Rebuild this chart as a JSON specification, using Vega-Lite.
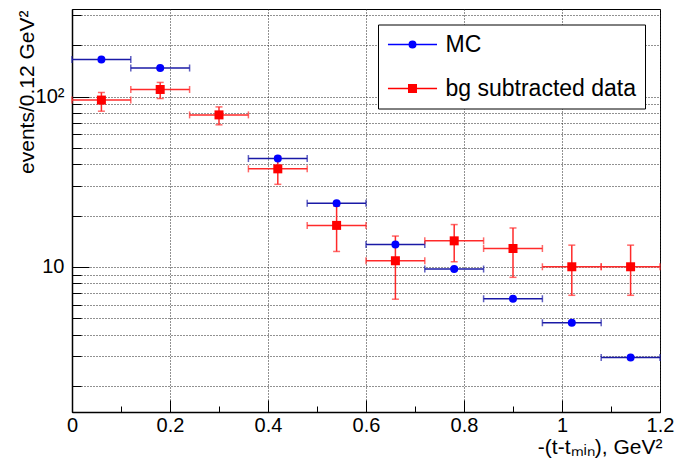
{
  "$schema": "https://vega.github.io/schema/vega-lite/v6.json",
  "width": 588,
  "height": 403,
  "autosize": {"type": "none"},
  "padding": {"left": 72, "top": 9, "right": 19, "bottom": 54},
  "background": "white",
  "config": {
    "view": {"stroke": "black", "strokeWidth": 1},
    "font": "Liberation Sans",
    "axis": {
      "labelFont": "Liberation Sans",
      "titleFont": "Liberation Sans",
      "labelColor": "black",
      "titleColor": "black",
      "domainColor": "black",
      "domainWidth": 1.5,
      "tickColor": "black",
      "tickWidth": 1,
      "gridColor": "#222222",
      "gridDash": [1, 2],
      "gridWidth": 1,
      "labelFontSize": 20,
      "titleFontSize": 21,
      "titleFontWeight": "normal",
      "labelFlush": false,
      "labelOverlap": false,
      "labelBound": false
    }
  },
  "data": {
    "values": [
      {"series": "MC", "x": 0.06, "xlo": 0.0, "xhi": 0.12, "y": 165},
      {"series": "MC", "x": 0.18, "xlo": 0.12, "xhi": 0.24, "y": 147},
      {"series": "MC", "x": 0.42, "xlo": 0.36, "xhi": 0.48, "y": 43.2},
      {"series": "MC", "x": 0.54, "xlo": 0.48, "xhi": 0.60, "y": 23.6},
      {"series": "MC", "x": 0.66, "xlo": 0.60, "xhi": 0.72, "y": 13.5},
      {"series": "MC", "x": 0.78, "xlo": 0.72, "xhi": 0.84, "y": 9.7},
      {"series": "MC", "x": 0.90, "xlo": 0.84, "xhi": 0.96, "y": 6.49},
      {"series": "MC", "x": 1.02, "xlo": 0.96, "xhi": 1.08, "y": 4.69},
      {"series": "MC", "x": 1.14, "xlo": 1.08, "xhi": 1.20, "y": 2.93},
      {"series": "bg subtracted data", "x": 0.06, "xlo": 0.0, "xhi": 0.12, "y": 95.3, "ylo": 82.0, "yhi": 105.6},
      {"series": "bg subtracted data", "x": 0.18, "xlo": 0.12, "xhi": 0.24, "y": 110, "ylo": 97.3, "yhi": 121},
      {"series": "bg subtracted data", "x": 0.30, "xlo": 0.24, "xhi": 0.36, "y": 78, "ylo": 68.2, "yhi": 86.9},
      {"series": "bg subtracted data", "x": 0.42, "xlo": 0.36, "xhi": 0.48, "y": 37.6, "ylo": 30.5, "yhi": 44.5},
      {"series": "bg subtracted data", "x": 0.54, "xlo": 0.48, "xhi": 0.60, "y": 17.5, "ylo": 12.3, "yhi": 22.7},
      {"series": "bg subtracted data", "x": 0.66, "xlo": 0.60, "xhi": 0.72, "y": 10.85, "ylo": 6.45, "yhi": 15.15},
      {"series": "bg subtracted data", "x": 0.78, "xlo": 0.72, "xhi": 0.84, "y": 14.2, "ylo": 10.7, "yhi": 17.7},
      {"series": "bg subtracted data", "x": 0.90, "xlo": 0.84, "xhi": 0.96, "y": 12.8, "ylo": 8.67, "yhi": 16.9},
      {"series": "bg subtracted data", "x": 1.02, "xlo": 0.96, "xhi": 1.08, "y": 10.0, "ylo": 6.8, "yhi": 13.4},
      {"series": "bg subtracted data", "x": 1.14, "xlo": 1.08, "xhi": 1.20, "y": 10.0, "ylo": 6.8, "yhi": 13.4}
    ]
  },
  "layer": [
    {
      "transform": [{"filter": "datum.series == 'MC'"}],
      "mark": {"type": "errorbar", "color": "#1a1aa6", "ticks": {"size": 7, "thickness": 1.5}, "rule": {"strokeWidth": 1.5}},
      "encoding": {
        "x": {
          "field": "xlo", "type": "quantitative", "title": "-(t-tₘᵢₙ), GeV²",
          "scale": {"domain": [0, 1.2], "nice": false, "zero": false},
          "axis": {
            "values": [0, 0.05, 0.1, 0.15, 0.2, 0.25, 0.3, 0.35, 0.4, 0.45, 0.5, 0.55, 0.6, 0.65, 0.7, 0.75, 0.8, 0.85, 0.9, 0.95, 1.0, 1.05, 1.1, 1.15, 1.2],
            "labelExpr": "abs(datum.value*5 - round(datum.value*5)) < 0.001 ? format(datum.value, '~g') : ''",
            "tickSize": {"condition": {"test": "abs(datum.value*5 - round(datum.value*5)) < 0.001", "value": -12}, "value": -6},
            "gridOpacity": {"condition": {"test": "abs(datum.value*5 - round(datum.value*5)) < 0.001", "value": 1}, "value": 0},
            "grid": true,
            "labelPadding": 15,
            "titleAlign": "right",
            "titleBaseline": "alphabetic",
            "titleX": 590,
            "titleY": 41
          }
        },
        "x2": {"field": "xhi"},
        "y": {
          "field": "y", "type": "quantitative", "title": "events/0.12 GeV²",
          "scale": {"type": "log", "domain": [1.403, 326.6], "nice": false},
          "axis": {
            "values": [2, 3, 4, 5, 6, 7, 8, 9, 10, 20, 30, 40, 50, 60, 70, 80, 90, 100, 200, 300],
            "labelExpr": "datum.value == 10 ? '10' : datum.value == 100 ? '10²' : ''",
            "tickSize": {"condition": {"test": "datum.value == 10 || datum.value == 100", "value": -17}, "value": -9},
            "grid": true,
            "labelPadding": 25,
            "titleAngle": 270,
            "titleAlign": "right",
            "titleBaseline": "middle",
            "titleX": -45,
            "titleY": 1
          }
        }
      }
    },
    {
      "transform": [{"filter": "datum.series == 'bg subtracted data'"}],
      "mark": {"type": "errorbar", "color": "#ff2a2a", "ticks": {"size": 7, "thickness": 1.5}, "rule": {"strokeWidth": 1.5}},
      "encoding": {
        "x": {"field": "xlo", "type": "quantitative", "title": "-(t-tₘᵢₙ), GeV²"},
        "x2": {"field": "xhi"},
        "y": {"field": "y", "type": "quantitative", "title": "events/0.12 GeV²"}
      }
    },
    {
      "transform": [{"filter": "datum.series == 'bg subtracted data'"}],
      "mark": {"type": "errorbar", "color": "#ff2a2a", "ticks": {"size": 7, "thickness": 1.5}, "rule": {"strokeWidth": 1.5}},
      "encoding": {
        "x": {"field": "x", "type": "quantitative", "title": "-(t-tₘᵢₙ), GeV²"},
        "y": {"field": "ylo", "type": "quantitative", "title": "events/0.12 GeV²"},
        "y2": {"field": "yhi"}
      }
    },
    {
      "transform": [{"filter": "datum.series == 'MC'"}],
      "mark": {"type": "point", "shape": "circle", "filled": true, "size": 64, "opacity": 1, "color": "#0000ff"},
      "encoding": {
        "x": {"field": "x", "type": "quantitative", "title": "-(t-tₘᵢₙ), GeV²"},
        "y": {"field": "y", "type": "quantitative", "title": "events/0.12 GeV²"}
      }
    },
    {
      "transform": [{"filter": "datum.series == 'bg subtracted data'"}],
      "mark": {"type": "point", "shape": "square", "filled": true, "size": 81, "opacity": 1, "color": "#ff0000"},
      "encoding": {
        "x": {"field": "x", "type": "quantitative", "title": "-(t-tₘᵢₙ), GeV²"},
        "y": {"field": "y", "type": "quantitative", "title": "events/0.12 GeV²"}
      }
    },
    {
      "mark": {"type": "point", "filled": true, "opacity": 0, "size": 10},
      "encoding": {
        "x": {"field": "x", "type": "quantitative", "title": "-(t-tₘᵢₙ), GeV²"},
        "y": {"field": "y", "type": "quantitative", "title": "events/0.12 GeV²"},
        "color": {
          "field": "series", "type": "nominal", "title": null,
          "scale": {"domain": ["MC", "bg subtracted data"], "range": ["#0000ff", "#ff0000"]},
          "legend": {
            "orient": "none",
            "legendX": 306,
            "legendY": 15.5,
            "padding": 8,
            "strokeColor": "black",
            "fillColor": "white",
            "symbolSize": 484,
            "symbolOffset": 14.5,
            "symbolOpacity": 1,
            "labelOffset": 21,
            "rowPadding": 20,
            "labelFontSize": 23,
            "labelFont": "Liberation Sans",
            "labelColor": "black",
            "labelLimit": 400,
            "symbolStrokeWidth": 1.5
          }
        },
        "stroke": {
          "field": "series", "type": "nominal", "title": null,
          "scale": {"domain": ["MC", "bg subtracted data"], "range": ["#0000ff", "#ff0000"]}
        },
        "shape": {
          "field": "series", "type": "nominal", "title": null,
          "scale": {"domain": ["MC", "bg subtracted data"], "range": [
            "M-2.23,0H2.23M-0.295,0A0.295,0.295 0 1,0 0.295,0A0.295,0.295 0 1,0 -0.295,0ZM-0.182,0A0.182,0.182 0 1,0 0.182,0A0.182,0.182 0 1,0 -0.182,0ZM-0.068,0A0.068,0.068 0 1,0 0.068,0A0.068,0.068 0 1,0 -0.068,0Z",
            "M-2.23,0H2.23M-0.34,-0.34H0.34V0.34H-0.34ZM-0.34,-0.23H0.34M-0.34,-0.11H0.34M-0.34,0.11H0.34M-0.34,0.23H0.34M-0.23,-0.23H0.23V0.23H-0.23Z"
          ]}
        }
      }
    }
  ]
}
